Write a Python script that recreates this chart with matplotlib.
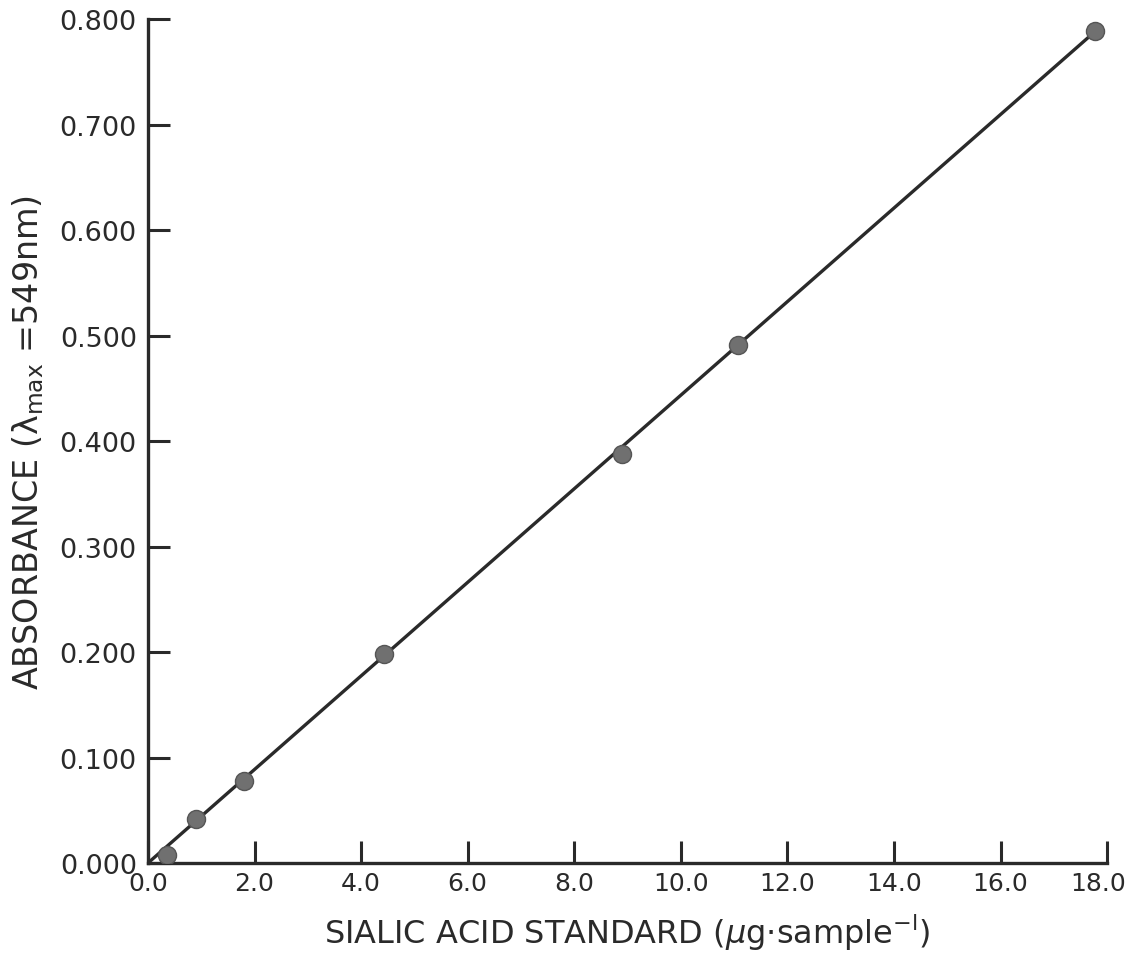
import matplotlib
matplotlib.use("Agg")
import matplotlib.pyplot as plt
import matplotlib.transforms as mtransforms
from matplotlib.ticker import FormatStrFormatter

# Data
sialic_ug = [0.36, 0.90, 1.80, 4.43, 8.90, 11.08, 17.77]
absorbance = [0.008, 0.042, 0.078, 0.198, 0.388, 0.491, 0.789]
fit_x = [0.0, 17.77]
fit_y = [0.0, 0.788]
x_ticks = [0, 2, 4, 6, 8, 10, 12, 14, 16, 18]
y_ticks = [0.0, 0.1, 0.2, 0.3, 0.4, 0.5, 0.6, 0.7, 0.8]

plt.rcParams['font.family'] = ['DejaVu Sans']
plt.rcParams['mathtext.fontset'] = 'dejavusans'
ink = '#2a2a2a'

fig = plt.figure(figsize=(11.32, 9.54), dpi=100)
ax = fig.add_axes([0.1307, 0.0943, 0.978 - 0.1307, 0.979 - 0.0943])

ax.plot(fit_x, fit_y, color=ink, lw=2.4, zorder=2)
ax.plot(sialic_ug, absorbance, 'o', ms=13, color='#707070', mec='#555555', mew=1, zorder=3)

ax.set_xlim(0, 18)
ax.set_ylim(0, 0.8)
ax.set_xticks(x_ticks)
ax.set_yticks(y_ticks)
ax.xaxis.set_major_formatter(FormatStrFormatter('%.1f'))
ax.yaxis.set_major_formatter(FormatStrFormatter('%.3f'))

for s in ['top', 'right']:
    ax.spines[s].set_visible(False)
for s in ['left', 'bottom']:
    ax.spines[s].set_linewidth(2.4)
    ax.spines[s].set_color(ink)

ax.tick_params(direction='in', length=16, width=2.2, color=ink,
               labelcolor=ink)
ax.tick_params(axis='x', pad=6, labelsize=18)
ax.tick_params(axis='y', pad=8, labelsize=19.5)

# keep the last x label inside the figure
fig.canvas.draw()
last = ax.get_xticklabels()[-1]
last.set_transform(last.get_transform() +
                   mtransforms.ScaledTranslation(-9 / 100, 0, fig.dpi_scale_trans))

ax.set_xlabel(r'SIALIC ACID STANDARD ($\mu$g$\cdot$sample$^{-\mathrm{l}}$)',
              fontsize=23, color=ink, labelpad=12)
ax.set_ylabel(r'ABSORBANCE (λ$_{\mathrm{max}}$ =549nm)',
              fontsize=24, color=ink, labelpad=10)

fig.savefig('out.png', dpi=100)
